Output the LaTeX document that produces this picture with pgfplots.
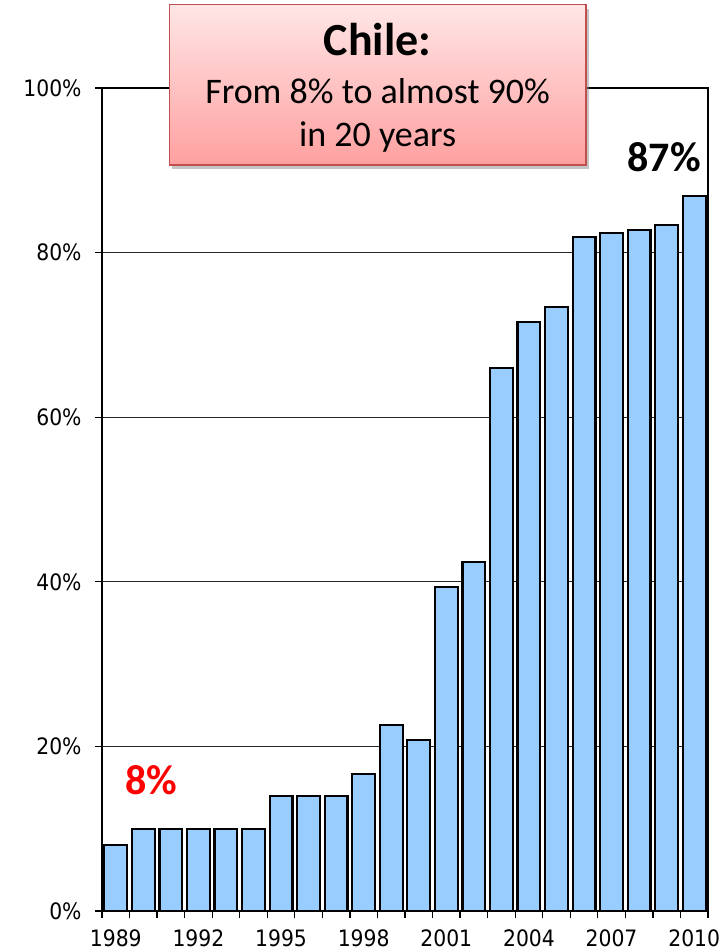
\documentclass[border=0pt]{standalone}
\usepackage{fontspec}
\setmainfont{DejaVu Sans Condensed}
\newfontfamily\calib{Carlito}
\usepackage{pgfplots}
\pgfplotsset{compat=1.18}
\usetikzlibrary{shadows}
\definecolor{barblue}{HTML}{99CCFF}
\definecolor{boxedge}{HTML}{C0504D}
\definecolor{boxtop}{HTML}{FFE6E6}
\definecolor{boxbot}{HTML}{FFA0A0}

\begin{document}
\begin{tikzpicture}
\useasboundingbox (0pt,0pt) rectangle (362.5pt,475pt);
\begin{axis}[
  at={(51pt,19.5pt)}, anchor=south west,
  scale only axis, width=303pt, height=411.5pt,
  xmin=-0.5, xmax=21.5, ymin=0, ymax=100,
  ybar, bar width=0.83, bar shift=0pt,
  axis line style={line width=0.9pt},
  xtick={0,3,...,21},
  xticklabels={1989,1992,1995,1998,2001,2004,2007,2010},
  minor xtick={-0.5,0.5,...,21.5},
  major x tick style={draw=none},
  minor x tick style={line width=0.6pt, black},
  y tick style={line width=0.6pt, black},
  tick align=outside, tick pos=left,
  major tick length=3.5pt, minor tick length=3.5pt,
  ytick={0,20,...,100},
  ymajorgrids, grid style={line width=0.5pt, black!85},
  yticklabel={\pgfmathprintnumber{\tick}\%},
  /pgf/number format/assume math mode=true,
  ticklabel style={font=\fontsize{11.3}{13}\selectfont},
  xticklabel style={yshift=-2.2pt},
  yticklabel style={xshift=-3.2pt},
]
\addplot[fill=barblue, draw=black, line width=1.1pt] coordinates {
  (0,8.0) (1,10.0) (2,10.0) (3,10.0) (4,10.0) (5,10.0)
  (6,14.0) (7,14.0) (8,14.0) (9,16.6) (10,22.6) (11,20.8)
  (12,39.4) (13,42.4) (14,66.0) (15,71.6) (16,73.4) (17,81.9)
  (18,82.4) (19,82.7) (20,83.4) (21,86.9)
};
\node[anchor=base east, inner sep=0pt, font=\calib\bfseries\fontsize{21}{25}\selectfont]
  at (axis cs:21.25,89.8) {87\%};
\node[anchor=base, inner sep=0pt, text=red, font=\calib\bfseries\fontsize{21}{25}\selectfont]
  at (axis cs:1.28,14.1) {8\%};
\end{axis}
% headline box
\node[draw=boxedge, line width=0.8pt, top color=boxtop, bottom color=boxbot,
      minimum width=208.3pt, minimum height=80.2pt, inner sep=0pt,
      drop shadow={shadow xshift=1.5pt, shadow yshift=-2pt, fill=black!45, opacity=0.5}]
  at (188.8pt,432.6pt) {};
\node[anchor=base, font=\calib\bfseries\fontsize{23}{27}\selectfont] at (188.8pt,447pt) {Chile:};
\node[anchor=base, font=\calib\fontsize{18}{22}\selectfont] at (188.8pt,423.3pt) {From 8\% to almost 90\%};
\node[anchor=base, font=\calib\fontsize{18}{22}\selectfont] at (188.8pt,401.7pt) {in 20 years};
\end{tikzpicture}
\end{document}
